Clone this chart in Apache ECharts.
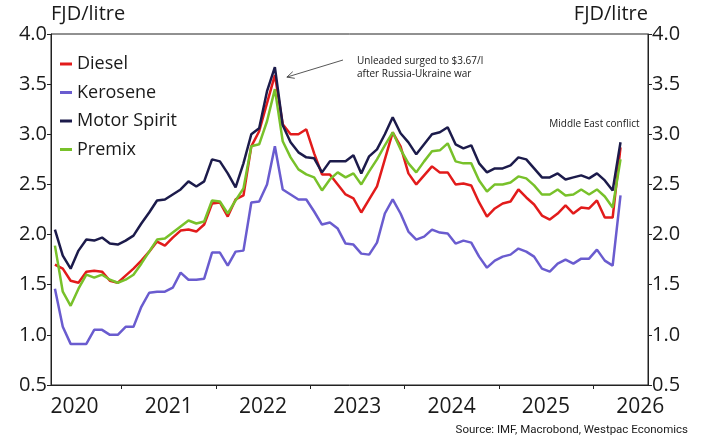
<!DOCTYPE html>
<html>
<head>
<meta charset="utf-8">
<script src="https://cdn.jsdelivr.net/npm/echarts@6/dist/echarts.min.js"></script>
<style>
  html, body { margin: 0; background: #fff; }
  #chart { width: 702px; height: 439px; }
</style>
</head>
<body>
<div id="chart"></div>
<script>
// monthly retail prices, FJD per litre, Apr 2020 - Apr 2026
const firstMonth = "2020-04";

const diesel = [
  1.70, 1.66, 1.54, 1.52, 1.63, 1.64, 1.63, 1.54, 1.52,
  1.59, 1.66, 1.74, 1.83, 1.93, 1.89, 1.97, 2.04, 2.05, 2.03, 2.10, 2.31,
  2.32, 2.18, 2.35, 2.39, 2.88, 3.03, 3.31, 3.59, 3.10, 3.00, 3.00, 3.05,
  2.81, 2.60, 2.60, 2.50, 2.40, 2.36, 2.22, 2.35, 2.48, 2.75, 3.02, 2.88,
  2.61, 2.50, 2.59, 2.68, 2.62, 2.62, 2.50, 2.51, 2.49, 2.32, 2.18, 2.26,
  2.31, 2.33, 2.45, 2.37, 2.30, 2.19, 2.15, 2.21, 2.29, 2.21, 2.27, 2.26,
  2.34, 2.17, 2.17, 2.87
];
const kerosene = [
  1.46, 1.08, 0.91, 0.91, 0.91, 1.05, 1.05, 1.00, 1.00,
  1.08, 1.08, 1.28, 1.42, 1.43, 1.43, 1.47, 1.62, 1.55, 1.55, 1.56, 1.82,
  1.82, 1.69, 1.83, 1.84, 2.32, 2.33, 2.50, 2.88, 2.45, 2.40, 2.35, 2.35,
  2.23, 2.10, 2.12, 2.06, 1.91, 1.90, 1.81, 1.80, 1.92, 2.21, 2.35, 2.21,
  2.03, 1.95, 1.98, 2.05, 2.02, 2.01, 1.91, 1.94, 1.92, 1.78, 1.67, 1.74,
  1.78, 1.80, 1.86, 1.83, 1.78, 1.66, 1.63, 1.71, 1.75, 1.71, 1.76, 1.76,
  1.85, 1.74, 1.69, 2.39
];
const motorSpirit = [
  2.05, 1.79, 1.66, 1.84, 1.95, 1.94, 1.97, 1.91, 1.90,
  1.94, 1.99, 2.11, 2.22, 2.34, 2.35, 2.40, 2.45, 2.53, 2.48, 2.53, 2.75,
  2.73, 2.61, 2.47, 2.71, 3.00, 3.06, 3.43, 3.67, 3.09, 2.92, 2.82, 2.77,
  2.76, 2.62, 2.73, 2.73, 2.73, 2.79, 2.61, 2.78, 2.85, 3.00, 3.17, 3.01,
  2.92, 2.80, 2.90, 3.00, 3.02, 3.07, 2.90, 2.86, 2.89, 2.71, 2.62, 2.66,
  2.66, 2.69, 2.77, 2.75, 2.66, 2.57, 2.57, 2.61, 2.55, 2.57, 2.59, 2.56,
  2.61, 2.54, 2.44, 2.92
];
const premix = [
  1.89, 1.43, 1.29, 1.46, 1.60, 1.57, 1.60, 1.55, 1.52,
  1.55, 1.60, 1.71, 1.83, 1.95, 1.96, 2.02, 2.08, 2.14, 2.11, 2.13, 2.34,
  2.33, 2.21, 2.34, 2.46, 2.88, 2.90, 3.13, 3.45, 2.93, 2.77, 2.65, 2.60,
  2.57, 2.44, 2.55, 2.62, 2.57, 2.61, 2.50, 2.63, 2.75, 2.89, 3.02, 2.85,
  2.71, 2.62, 2.73, 2.83, 2.84, 2.91, 2.73, 2.71, 2.71, 2.54, 2.43, 2.50,
  2.50, 2.52, 2.58, 2.56, 2.49, 2.40, 2.40, 2.45, 2.39, 2.40, 2.45, 2.40,
  2.45, 2.38, 2.27, 2.75
];

const years = [2020, 2021, 2022, 2023, 2024, 2025, 2026];
const yTicks = [0.5, 1.0, 1.5, 2.0, 2.5, 3.0, 3.5, 4.0];

const colors = {
  Diesel: "#e21b1b",
  Kerosene: "#6a5ccf",
  "Motor Spirit": "#1c1b4b",
  Premix: "#78c12a",
};

const FONT = "'Open Sans', 'Noto Sans', sans-serif";
const BASE_YEAR = years[0];

// month labels from the first observation
const [fy, fm] = firstMonth.split("-").map(Number);
const months = diesel.map((_, i) => {
  const m = fm - 1 + i;
  return `${fy + Math.floor(m / 12)}-${String((m % 12) + 1).padStart(2, "0")}`;
});

// x in months since Jan of the base year, mid-month
const toX = (ym) => {
  const [y, m] = ym.split("-").map(Number);
  return (y - BASE_YEAR) * 12 + (m - 1) + 0.5;
};

const pairs = (vals) => months.map((m, i) => [toX(m), vals[i]]);

const chart = echarts.init(document.getElementById("chart"));

const yAxisBase = {
  type: "value",
  min: yTicks[0],
  max: yTicks[yTicks.length - 1],
  interval: 0.5,
  splitLine: { show: false },
  axisLine: { show: true, lineStyle: { color: "#222", width: 1 } },
  axisTick: { show: true, inside: false, length: 4, lineStyle: { color: "#222" } },
  axisLabel: {
    color: "#1a1a1a",
    fontFamily: FONT,
    fontSize: 20,
    margin: 4,
    formatter: (v) => v.toFixed(1),
  },
  name: "FJD/litre",
  nameLocation: "end",
  nameGap: 4,
  nameTextStyle: { color: "#1a1a1a", fontFamily: FONT, fontSize: 20, verticalAlign: "bottom" },
};

const lineSeries = (name, vals, z) => ({
  name,
  type: "line",
  data: pairs(vals),
  showSymbol: false,
  z,
  lineStyle: { width: 2.5, color: colors[name] },
  itemStyle: { color: colors[name] },
  emphasis: { disabled: true },
});

chart.setOption({
  animation: false,
  textStyle: { fontFamily: FONT },
  grid: {
    left: 51, right: 54, top: 34, bottom: 54,
    show: true, borderColor: "#222", borderWidth: 1,
  },
  legend: {
    data: ["Diesel", "Kerosene", "Motor Spirit", "Premix"],
    orient: "vertical",
    left: 55,
    top: 49,
    icon: "rect",
    itemWidth: 12,
    itemHeight: 3,
    itemGap: 8.5,
    textStyle: { fontFamily: FONT, fontSize: 18, color: "#1a1a1a", lineHeight: 20 },
  },
  xAxis: {
    type: "value",
    min: 3,
    max: 79,
    splitLine: { show: false },
    axisLine: { show: true, lineStyle: { color: "#222", width: 1 } },
    axisTick: {
      show: true,
      length: 4,
      lineStyle: { color: "#222" },
      customValues: years.slice(1).map((y) => (y - BASE_YEAR) * 12),
    },
    axisLabel: {
      color: "#1a1a1a",
      fontFamily: FONT,
      fontSize: 21,
      margin: 12,
      customValues: years.map((y) => (y - BASE_YEAR) * 12 + 6),
      formatter: (v) => String(BASE_YEAR + Math.round((v - 6) / 12)),
    },
  },
  yAxis: [
    Object.assign({}, yAxisBase, {
      position: "left",
      nameTextStyle: Object.assign({}, yAxisBase.nameTextStyle, { align: "left" }),
    }),
    Object.assign({}, yAxisBase, {
      position: "right",
      nameTextStyle: Object.assign({}, yAxisBase.nameTextStyle, { align: "right" }),
    }),
  ],
  series: [
    lineSeries("Kerosene", kerosene, 2),
    lineSeries("Diesel", diesel, 3),
    lineSeries("Premix", premix, 4),
    lineSeries("Motor Spirit", motorSpirit, 5),
  ],
});

// annotations anchored to the data
const peakIdx = motorSpirit.indexOf(Math.max(...motorSpirit));
const peak = chart.convertToPixel({ xAxisIndex: 0, yAxisIndex: 0 }, [toX(months[peakIdx]), motorSpirit[peakIdx]]);
const tip = [peak[0] + 12, peak[1] + 10];
const tail = [343, 60];
const ang = Math.atan2(tail[1] - tip[1], tail[0] - tip[0]);
const head = (d) => [tip[0] + 8 * Math.cos(ang + d), tip[1] + 8 * Math.sin(ang + d)];

const lastIdx = months.length - 1;
const endPt = chart.convertToPixel({ xAxisIndex: 0, yAxisIndex: 0 }, [toX(months[lastIdx]), motorSpirit[lastIdx]]);

const noteStyle = { fill: "#1a1a1a", fontFamily: FONT, fontSize: 10 };

chart.setOption({
  graphic: [
    { type: "line", shape: { x1: tail[0], y1: tail[1], x2: tip[0], y2: tip[1] }, style: { stroke: "#444", lineWidth: 0.9 } },
    { type: "polyline", shape: { points: [head(0.45), tip, head(-0.45)] }, style: { stroke: "#444", lineWidth: 0.9, fill: null } },
    { type: "text", left: 357, top: 54, style: Object.assign({ text: "Unleaded surged to $3.67/l\nafter Russia-Ukraine war", lineHeight: 13.5 }, noteStyle) },
    { type: "text", style: Object.assign({ text: "Middle East conflict", x: endPt[0] + 19, y: 124, align: "right", verticalAlign: "middle" }, noteStyle) },
    { type: "text", style: { text: "Source: IMF, Macrobond, Westpac Economics", x: 688, y: 430, align: "right", verticalAlign: "middle", fill: "#1a1a1a", fontFamily: "'Roboto', sans-serif", fontSize: 11.5 } },
  ],
});
</script>
</body>
</html>
